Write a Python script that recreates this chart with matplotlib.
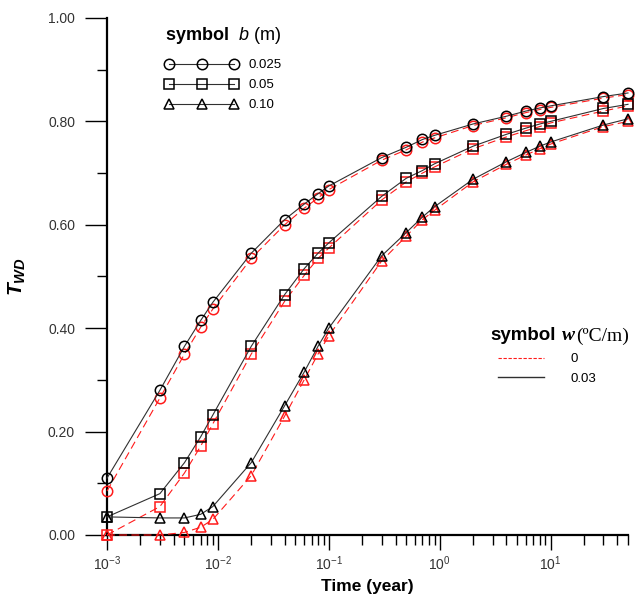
import numpy as np
import matplotlib
matplotlib.use("Agg")
import matplotlib.pyplot as plt
from matplotlib.lines import Line2D
from matplotlib.ticker import FixedLocator, MultipleLocator, FormatStrFormatter

plt.rcParams['font.family'] = ['Liberation Sans', 'DejaVu Sans']
plt.rcParams['mathtext.fontset'] = 'custom'
plt.rcParams['mathtext.rm'] = 'Liberation Sans'
plt.rcParams['mathtext.it'] = 'Liberation Sans:italic'
plt.rcParams['mathtext.bf'] = 'Liberation Sans:bold'
plt.rcParams['mathtext.bfit'] = 'Liberation Sans:bold:italic'

# time (year)
t = [1e-3, 3e-3, 5e-3, 7e-3, 9e-3, 2e-2, 4e-2, 6e-2, 8e-2, 1e-1,
     0.3, 0.5, 0.7, 0.9, 2, 4, 6, 8, 10, 30, 50]

# b = 0.025 m
circ_w003 = [0.110, 0.280, 0.365, 0.415, 0.450, 0.545, 0.610, 0.640, 0.660, 0.675,
             0.730, 0.750, 0.765, 0.773, 0.795, 0.810, 0.820, 0.826, 0.830, 0.848, 0.855]
circ_w0 = [0.085, 0.265, 0.350, 0.402, 0.437, 0.535, 0.600, 0.632, 0.652, 0.668,
           0.725, 0.745, 0.760, 0.768, 0.792, 0.807, 0.817, 0.823, 0.827, 0.845, 0.852]
# b = 0.05 m
sq_w003 = [0.035, 0.080, 0.140, 0.190, 0.232, 0.365, 0.465, 0.515, 0.545, 0.565,
           0.655, 0.690, 0.705, 0.718, 0.752, 0.775, 0.787, 0.795, 0.800, 0.825, 0.833]
sq_w0 = [0.000, 0.055, 0.120, 0.172, 0.215, 0.350, 0.452, 0.502, 0.535, 0.555,
         0.648, 0.683, 0.700, 0.712, 0.747, 0.770, 0.782, 0.790, 0.797, 0.820, 0.830]
# b = 0.10 m
tri_w003 = [0.035, 0.033, 0.033, 0.040, 0.055, 0.140, 0.250, 0.315, 0.365, 0.400,
            0.540, 0.585, 0.615, 0.635, 0.688, 0.722, 0.740, 0.752, 0.760, 0.793, 0.805]
tri_w0 = [0.000, 0.000, 0.005, 0.015, 0.030, 0.115, 0.230, 0.300, 0.350, 0.385,
          0.530, 0.578, 0.610, 0.628, 0.683, 0.717, 0.735, 0.747, 0.756, 0.790, 0.800]

b_labels = ['0.025', '0.05', '0.10']
w_labels = ['0', '0.03']
markers = ['o', 's', '^']

fig = plt.figure(figsize=(6.38, 5.98), dpi=100)
ax = fig.add_axes([107/638, 63/598, 521/638, 517/598])

red = '#ff1a1a'
dark = '#303030'
for mk, y0, y3 in zip(markers, [circ_w0, sq_w0, tri_w0], [circ_w003, sq_w003, tri_w003]):
    ax.plot(t, y0, color=red, lw=0.8, dashes=(7, 4), marker=mk, ms=7.5,
            mfc='none', mec=red, mew=1.1, clip_on=False, zorder=3)
    ax.plot(t, y3, color=dark, lw=0.8, marker=mk, ms=7.5,
            mfc='none', mec='black', mew=1.1, clip_on=False, zorder=4)

ax.set_xscale('log')
ax.set_xlim(1e-3, 50)
ax.set_ylim(0, 1.0)
ax.yaxis.set_major_locator(MultipleLocator(0.2))
ax.yaxis.set_minor_locator(MultipleLocator(0.1))
ax.yaxis.set_major_formatter(FormatStrFormatter('%.2f'))
ax.xaxis.set_major_locator(FixedLocator([1e-3, 1e-2, 1e-1, 1, 10]))
ax.set_xticklabels([r'$10^{-3}$', r'$10^{-2}$', r'$10^{-1}$', r'$10^{0}$', r'$10^{1}$'])

for s in ['top', 'right']:
    ax.spines[s].set_visible(False)
for s in ['left', 'bottom']:
    ax.spines[s].set_linewidth(1.6)
ax.tick_params(which='major', direction='out', length=11, width=1.0,
               labelsize=10, labelcolor='#333333', pad=3)
ax.tick_params(which='minor', direction='out', length=7, width=1.0)
ax.tick_params(axis='y', which='major', length=16, pad=7)

ax.set_xlabel('Time (year)', fontsize=12.5, fontweight='bold', labelpad=4)
ax.set_ylabel(r'$\mathbfit{T}_{\mathbfit{WD}}$', fontsize=15, labelpad=14)

# symbol legend (b)
h_b = [Line2D([], [], color=dark, lw=0.8, marker=mk, ms=7.5, mfc='none',
              mec='black', mew=1.1) for mk in markers]
leg1 = ax.legend(h_b, b_labels, loc='upper left', bbox_to_anchor=(0.102, 0.931),
                 frameon=False, numpoints=3, handlelength=5.5, fontsize=9.5,
                 labelspacing=0.6, handletextpad=0.8, borderaxespad=0)
ax.add_artist(leg1)
fig.text(165/638, 1 - 36/598, r'$\mathbf{symbol}$  $\mathit{b}$ (m)',
         fontsize=13, va='center', ha='left')

# line legend (w)
h_w = [Line2D([], [], color=red, lw=0.8, dashes=(3, 1.5)),
       Line2D([], [], color=dark, lw=1.0)]
ax.legend(h_w, w_labels, loc='upper left', bbox_to_anchor=(0.740, 0.362),
          frameon=False, handlelength=3.5, fontsize=9.5, labelspacing=0.55,
          handletextpad=2.0, borderaxespad=0)
fig.text(490/638, 1 - 336/598, 'symbol', fontsize=13.5, fontweight='bold',
         va='center', ha='left')
fig.text(562/638, 1 - 336/598, 'w', fontsize=14, va='center', ha='left',
         family='Liberation Serif', fontstyle='italic', fontweight='bold')
fig.text(576/638, 1 - 336/598, '(\u00baC/m)', fontsize=14, va='center', ha='left',
         family='Liberation Serif')

fig.savefig('out.png', dpi=100)
